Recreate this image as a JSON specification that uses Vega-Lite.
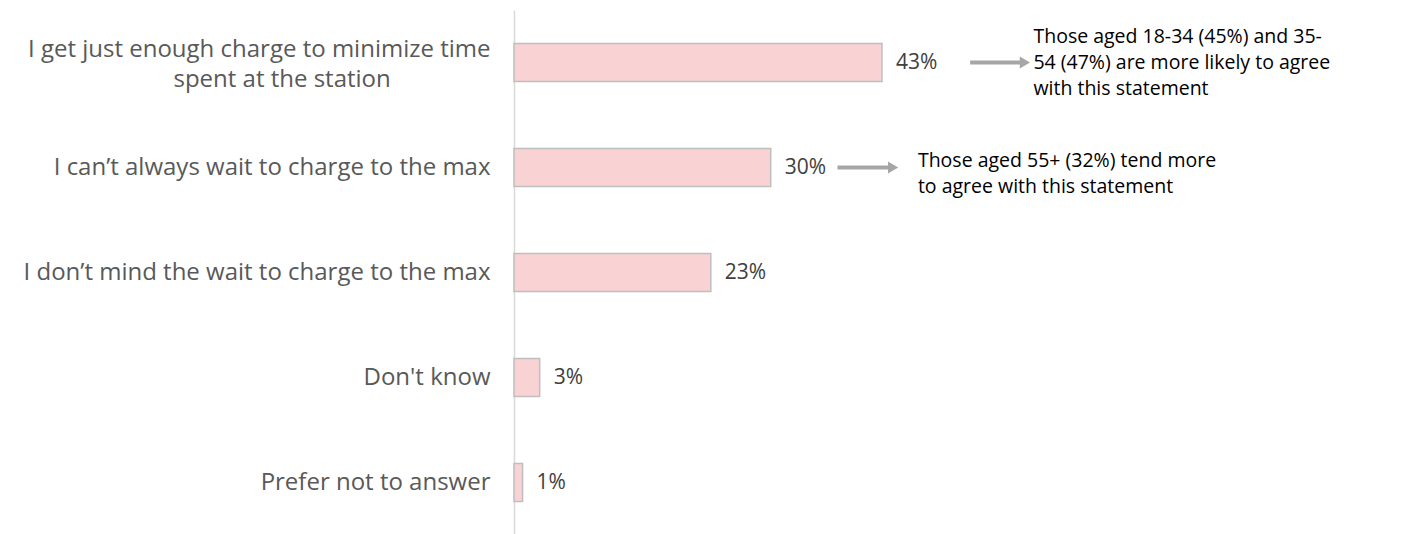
{
  "$schema": "https://vega.github.io/schema/vega-lite/v6.json",
  "width": 890,
  "height": 525,
  "autosize": "none",
  "padding": {"left": 514, "top": 10, "right": 0, "bottom": 0},
  "background": "white",
  "config": {"view": {"stroke": null}, "font": "Open Sans"},
  "datasets": {
    "bars": [
      {"label": "I get just enough charge to minimize time|spent at the station\u00a0\u00a0\u00a0\u00a0\u00a0\u00a0\u00a0\u00a0\u00a0\u00a0\u00a0\u00a0\u00a0\u00a0\u00a0\u00a0\u200b", "value": 43},
      {"label": "I can’t always wait to charge to the max", "value": 30},
      {"label": "I don’t mind the wait to charge to the max", "value": 23},
      {"label": "Don't know", "value": 3},
      {"label": "Prefer not to answer", "value": 1}
    ],
    "arrows": [
      {"label": "I get just enough charge to minimize time|spent at the station\u00a0\u00a0\u00a0\u00a0\u00a0\u00a0\u00a0\u00a0\u00a0\u00a0\u00a0\u00a0\u00a0\u00a0\u00a0\u00a0\u200b", "start": 53.3, "end": 59.7},
      {"label": "I can’t always wait to charge to the max", "start": 37.8, "end": 44.3}
    ],
    "notes": [
      {"label": "I get just enough charge to minimize time|spent at the station\u00a0\u00a0\u00a0\u00a0\u00a0\u00a0\u00a0\u00a0\u00a0\u00a0\u00a0\u00a0\u00a0\u00a0\u00a0\u00a0\u200b", "pos": 60.7, "text": "Those aged 18-34 (45%) and 35-|54 (47%) are more likely to agree|with this statement", "shift": -6},
      {"label": "I can’t always wait to charge to the max", "pos": 47.2, "text": "Those aged 55+ (32%) tend more|to agree with this statement", "shift": 13}
    ]
  },
  "encoding": {
    "y": {
      "field": "label",
      "type": "nominal",
      "sort": null,
      "scale": {"paddingInner": 0.638, "paddingOuter": 0.319},
      "axis": {
        "title": null,
        "labelExpr": "split(datum.label, '|')",
        "labelFontSize": 24,
        "labelColor": "#595959",
        "labelPadding": 24,
        "labelLineHeight": 30,
        "labelLimit": 600,
        "labelOffset": {"condition": {"test": "indexof(datum.label, '|') >= 0", "value": -13}, "value": 0},
        "ticks": false,
        "domainColor": "#d9d9d9",
        "domainWidth": 1.5
      }
    }
  },
  "layer": [
    {
      "data": {"name": "bars"},
      "mark": {"type": "bar", "fill": "#f9d3d4", "stroke": "#bfbfbf", "strokeWidth": 1.5},
      "encoding": {
        "x": {"field": "value", "type": "quantitative", "scale": {"domain": [0, 104], "nice": false, "zero": true}, "axis": null}
      }
    },
    {
      "data": {"name": "bars"},
      "transform": [{"calculate": "datum.value + '%'", "as": "pct"}],
      "mark": {"type": "text", "align": "left", "baseline": "middle", "dx": 14, "fontSize": 21, "color": "#404040"},
      "encoding": {
        "x": {"field": "value", "type": "quantitative"},
        "text": {"field": "pct"}
      }
    },
    {
      "data": {"name": "arrows"},
      "mark": {"type": "rule", "color": "#a6a6a6", "strokeWidth": 4},
      "encoding": {
        "x": {"field": "start", "type": "quantitative"},
        "x2": {"field": "end"}
      }
    },
    {
      "data": {"name": "arrows"},
      "mark": {"type": "point", "shape": "triangle-right", "filled": true, "color": "#a6a6a6", "opacity": 1, "size": 140},
      "encoding": {
        "x": {"field": "end", "type": "quantitative"}
      }
    },
    {
      "data": {"name": "notes"},
      "transform": [{"calculate": "split(datum.text, '|')", "as": "lines"}],
      "mark": {"type": "text", "align": "left", "baseline": "middle", "fontSize": 19.5, "lineHeight": 26, "color": "#000000"},
      "encoding": {
        "x": {"field": "pos", "type": "quantitative"},
        "yOffset": {"field": "shift", "type": "quantitative", "scale": null},
        "text": {"field": "lines"}
      }
    }
  ]
}
